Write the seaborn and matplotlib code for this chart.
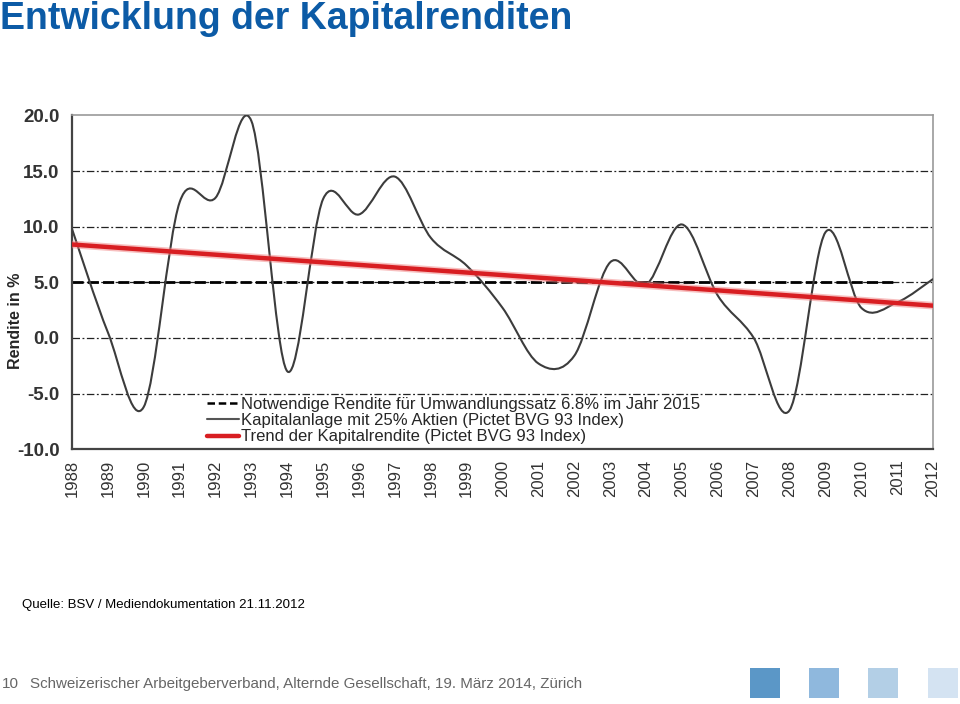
import numpy as np
import pandas as pd
import matplotlib
matplotlib.use("Agg")
import matplotlib.pyplot as plt
from matplotlib.path import Path
from matplotlib.patches import PathPatch, Rectangle
from matplotlib.lines import Line2D
import seaborn as sns

# Data
years = list(range(1988, 2013))
returns = [9.8, 0.5, -6.2, 12.2, 12.6, 19.5, -3.0, 12.5, 11.1, 14.5,
           9.0, 6.5, 2.7, -2.3, -1.6, 6.8, 4.8, 10.2, 3.8, 0.0,
           -6.5, 9.5, 2.7, 3.2, 5.3]
trend_years = [1988, 2012]
trend_values = [8.4, 2.9]
required_years = [1988, 2011]
required_values = [5.0, 5.0]
y_ticks = [-10, -5, 0, 5, 10, 15, 20]

labels = [
    "Notwendige Rendite für Umwandlungssatz 6.8% im Jahr 2015",
    "Kapitalanlage mit 25% Aktien (Pictet BVG 93 Index)",
    "Trend der Kapitalrendite (Pictet BVG 93 Index)",
]

sns.set_theme(style="white")
plt.rcParams["font.family"] = ["Liberation Sans", "DejaVu Sans"]


def smooth_path(x, y):
    """Catmull-Rom style smoothed path (like a smoothed line in a spreadsheet chart)."""
    n = len(x)
    verts = [(x[0], y[0])]
    codes = [Path.MOVETO]
    for i in range(n - 1):
        a = max(i - 1, 0)
        d = min(i + 2, n - 1)
        c1 = (x[i] + (x[i + 1] - x[a]) / 6, y[i] + (y[i + 1] - y[a]) / 6)
        c2 = (x[i + 1] - (x[d] - x[i]) / 6, y[i + 1] - (y[d] - y[i]) / 6)
        verts += [c1, c2, (x[i + 1], y[i + 1])]
        codes += [Path.CURVE4] * 3
    return Path(verts, codes)


fig = plt.figure(figsize=(9.6, 7.04), dpi=100)
ax = fig.add_axes([0.075, 0.362, 0.897, 0.474])

df_req = pd.DataFrame({"year": required_years, "value": required_values})
df_trend = pd.DataFrame({"year": trend_years, "value": trend_values})

# grid lines (dash-dot)
for yv in y_ticks[1:-1]:
    ax.axhline(yv, color="#222222", lw=0.9, ls=(0, (6, 2, 1.5, 2)), zorder=1)

sns.lineplot(data=df_req, x="year", y="value", ax=ax, color="black",
             lw=2.0, linestyle=(0, (4, 1.5)), zorder=2)

patch = PathPatch(smooth_path(years, returns), fill=False, edgecolor="#3c3c3c",
                  lw=1.5, zorder=3)
ax.add_patch(patch)

sns.lineplot(data=df_trend, x="year", y="value", ax=ax, color="#f08080",
             lw=5.5, alpha=0.5, zorder=4)
sns.lineplot(data=df_trend, x="year", y="value", ax=ax, color="#d81e22",
             lw=3.2, zorder=5)

ax.set_xlim(1988, 2012)
ax.set_ylim(-10, 20)
ax.set_xticks(years)
ax.set_xticklabels([str(y) for y in years], rotation=90, fontsize=12,
                   color="#333333")
ax.set_yticks(y_ticks)
ax.set_yticklabels([f"{v:.1f}" for v in y_ticks], fontsize=13.5,
                   fontweight="bold", color="#333333")
ax.set_xlabel("")
ax.set_ylabel("Rendite in %", fontsize=11.5, fontweight="bold")
ax.yaxis.set_label_coords(-0.057, 0.386)

for side in ["top", "right"]:
    ax.spines[side].set_color("#999999")
    ax.spines[side].set_linewidth(1.2)
for side in ["left", "bottom"]:
    ax.spines[side].set_color("#444444")
    ax.spines[side].set_linewidth(1.6)
ax.tick_params(axis="y", direction="out", length=5, width=1.2, color="#444444", pad=4)
ax.tick_params(axis="x", direction="inout", length=7, width=1.2, color="#444444", pad=4)

handles = [
    Line2D([], [], color="black", lw=1.8, ls=(0, (3, 1.5))),
    Line2D([], [], color="#555555", lw=1.5),
    Line2D([], [], color="#d81e22", lw=3.2),
]
ax.legend(handles, labels, loc="upper left", bbox_to_anchor=(0.157, 0.157),
          frameon=False, fontsize=12, handlelength=1.9, handletextpad=0.1,
          labelspacing=0.08, borderpad=0, borderaxespad=0)

# title, source and footer
fig.text(0.0, 0.999, "Entwicklung der Kapitalrenditen", fontsize=27,
         fontweight="bold", color="#0c5ba6", ha="left", va="top")
fig.text(0.023, 0.140, "Quelle: BSV / Mediendokumentation 21.11.2012",
         fontsize=9.5, color="black", ha="left", va="center")
fig.text(0.002, 0.029, "10", fontsize=11, color="#666666", ha="left", va="center")
fig.text(0.031, 0.029,
         "Schweizerischer Arbeitgeberverband, Alternde Gesellschaft, 19. März 2014, Zürich",
         fontsize=10.9, color="#666666", ha="left", va="center")

for x0, col in zip([750, 809, 868, 928],
                   ["#5b97c7", "#8fb8dd", "#b3cfe6", "#d4e3f2"]):
    fig.add_artist(Rectangle((x0 / 960, 1 - 698 / 704), 30 / 960, 30 / 704,
                             transform=fig.transFigure, color=col, lw=0))

fig.savefig("out.png", dpi=100)
